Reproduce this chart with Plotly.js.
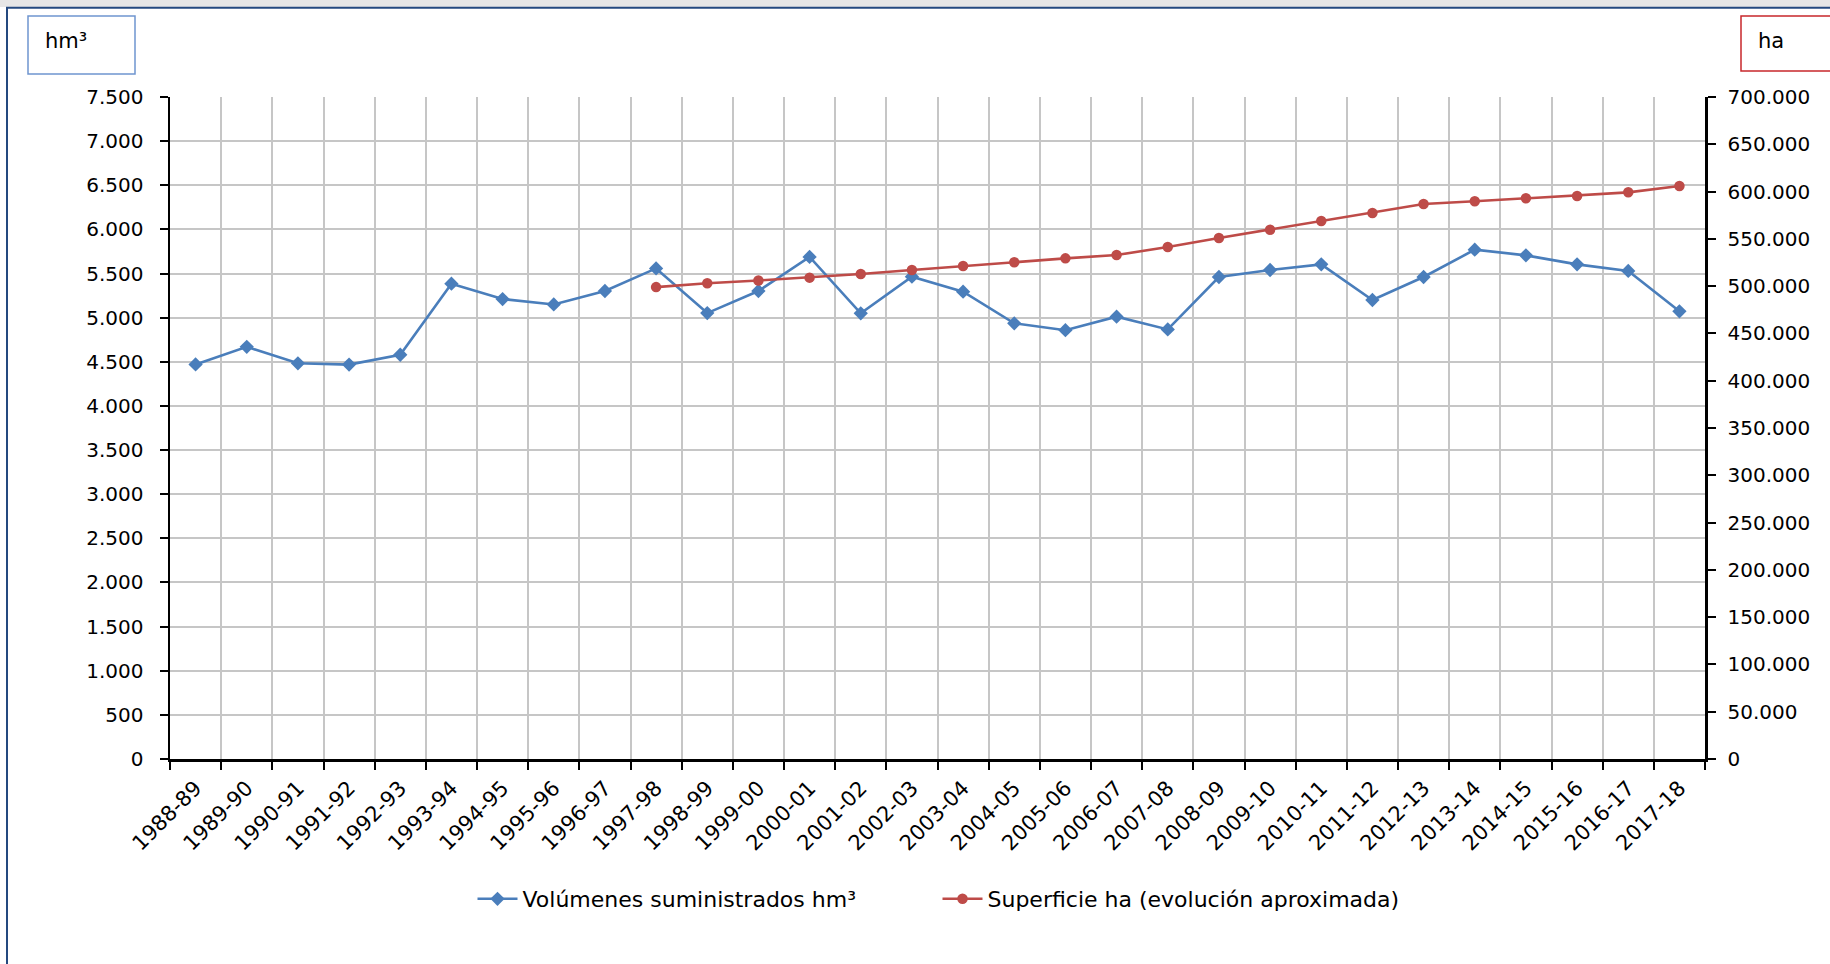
<!DOCTYPE html>
<html>
<head>
<meta charset="utf-8">
<script src="https://cdn.plot.ly/plotly-3.0.1.min.js"></script>
<style>
  html, body { margin: 0; padding: 0; background: #ffffff; }
  #chart { width: 1830px; height: 964px; }
</style>
</head>
<body>
<div id="chart"></div>
<script>
// ---- data ----
const campaigns = ["1988-89","1989-90","1990-91","1991-92","1992-93","1993-94","1994-95","1995-96","1996-97","1997-98",
  "1998-99","1999-00","2000-01","2001-02","2002-03","2003-04","2004-05","2005-06","2006-07","2007-08",
  "2008-09","2009-10","2010-11","2011-12","2012-13","2013-14","2014-15","2015-16","2016-17","2017-18"];
const volumenesHm3 = [4470, 4670, 4483, 4468, 4580, 5385, 5211, 5150, 5302, 5558,
  5052, 5302, 5688, 5049, 5464, 5294, 4936, 4858, 5011, 4867,
  5461, 5540, 5604, 5200, 5461, 5770, 5706, 5604, 5529, 5072];
const superficieCampaigns = ["1997-98","1998-99","1999-00","2000-01","2001-02","2002-03","2003-04","2004-05","2005-06","2006-07",
  "2007-08","2008-09","2009-10","2010-11","2011-12","2012-13","2013-14","2014-15","2015-16","2016-17","2017-18"];
const superficieHa = [499000, 503000, 506000, 509000, 512800, 517000, 521300, 525200, 529400, 532900,
  541400, 550900, 559700, 568900, 577300, 586900, 589700, 592900, 595300, 599200, 605900];
const seriesNames = ["Volúmenes suministrados hm³", "Superficie ha (evolución aproximada)"];
const unitLabels = ["hm³", "ha"];

// ---- layout helpers (pixel -> paper) ----
const L = 170, R = 1705, T = 97, B = 759;
const px = v => (v - L) / (R - L);
const py = v => (B - v) / (B - T);

const FONT = "DejaVu Sans";
const blue = "#4a7ebb", red = "#be4b48";

const traces = [
  {
    x: campaigns, y: volumenesHm3, name: seriesNames[0], type: "scatter", mode: "lines+markers",
    line: {color: blue, width: 2.6}, marker: {symbol: "diamond", size: 11, color: blue},
    yaxis: "y"
  },
  {
    x: superficieCampaigns, y: superficieHa, name: seriesNames[1], type: "scatter", mode: "lines+markers",
    line: {color: red, width: 2.6}, marker: {symbol: "circle", size: 10.5, color: red},
    yaxis: "y2"
  }
];

const layout = {
  width: 1830, height: 964,
  margin: {l: L, r: 1830 - R, t: T, b: 964 - B},
  paper_bgcolor: "#ffffff", plot_bgcolor: "#ffffff",
  separators: ",.",
  font: {family: FONT, size: 20, color: "#000000"},
  showlegend: true,
  legend: {
    orientation: "h", x: 0.5, xanchor: "center", y: py(899), yanchor: "middle",
    font: {family: FONT, size: 22, color: "#000000"}, itemwidth: 40, traceorder: "normal",
    entrywidth: 410, entrywidthmode: "pixels"
  },
  xaxis: {
    type: "category", categoryorder: "array", categoryarray: campaigns,
    tickson: "boundaries", ticks: "outside", ticklen: 8, tickwidth: 2, tickcolor: "#000000",
    showgrid: true, gridcolor: "#c6c6c6", gridwidth: 2,
    showline: true, linecolor: "#000000", linewidth: 2.5,
    tickangle: -45, tickfont: {family: FONT, size: 21}, ticklabelstandoff: 6,
    range: [-0.5, campaigns.length - 0.5], fixedrange: true
  },
  yaxis: {
    range: [0, 7500], tick0: 0, dtick: 500, tickformat: ",d",
    ticks: "outside", ticklen: 8, tickwidth: 2, tickcolor: "#000000",
    showgrid: true, gridcolor: "#c6c6c6", gridwidth: 2, zeroline: false,
    showline: true, linecolor: "#000000", linewidth: 2.5,
    tickfont: {family: FONT, size: 20}, ticklabelstandoff: 12, fixedrange: true
  },
  yaxis2: {
    overlaying: "y", side: "right",
    range: [0, 700000], tick0: 0, dtick: 50000, tickformat: ",d",
    ticks: "outside", ticklen: 8, tickwidth: 2, tickcolor: "#000000",
    showgrid: false, zeroline: false,
    showline: true, linecolor: "#000000", linewidth: 2.5,
    tickfont: {family: FONT, size: 20}, ticklabelstandoff: 8, fixedrange: true
  },
  shapes: [
    // top gray band
    {type: "rect", xref: "paper", yref: "paper", x0: px(0), x1: px(1830), y0: py(7), y1: py(0),
     fillcolor: "#e6e6e6", line: {width: 0}, layer: "below"},
    // outer frame top and left lines
    {type: "line", xref: "paper", yref: "paper", x0: px(6), x1: px(1830), y0: py(7.7), y1: py(7.7),
     line: {color: "#24497f", width: 2}},
    {type: "line", xref: "paper", yref: "paper", x0: px(7), x1: px(7), y0: py(7), y1: py(964),
     line: {color: "#24497f", width: 2}},
    // unit boxes
    {type: "rect", xref: "paper", yref: "paper", x0: px(28), x1: px(135), y0: py(74), y1: py(16),
     line: {color: "#6f95cf", width: 1.5}, fillcolor: "rgba(0,0,0,0)"},
    {type: "rect", xref: "paper", yref: "paper", x0: px(1741), x1: px(1840), y0: py(71), y1: py(16),
     line: {color: "#c8272b", width: 1.5}, fillcolor: "rgba(0,0,0,0)"}
  ],
  annotations: [
    {xref: "paper", yref: "paper", x: px(43), y: py(41), xanchor: "left", yanchor: "middle",
     text: unitLabels[0], showarrow: false, font: {family: FONT, size: 21, color: "#000000"}},
    {xref: "paper", yref: "paper", x: px(1756), y: py(41), xanchor: "left", yanchor: "middle",
     text: unitLabels[1], showarrow: false, font: {family: FONT, size: 21, color: "#000000"}}
  ],
  hovermode: false
};

Plotly.newPlot("chart", traces, layout, {staticPlot: true, displayModeBar: false});
</script>
</body>
</html>
